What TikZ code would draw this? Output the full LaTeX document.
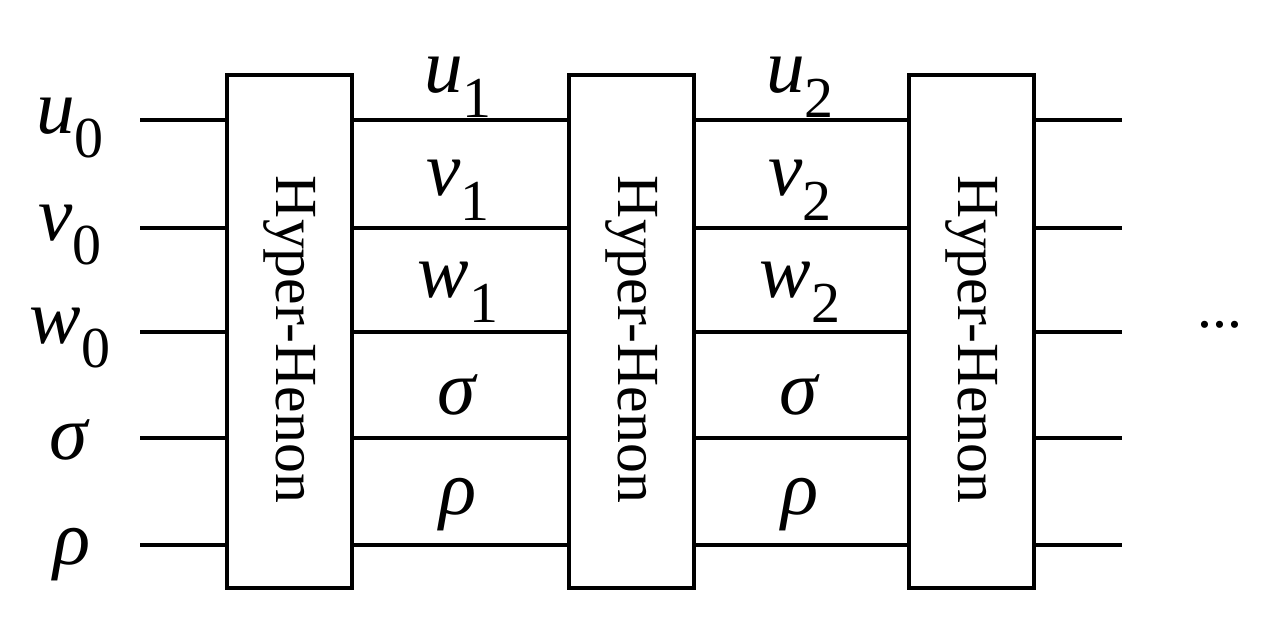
\documentclass[tikz,border=0pt]{standalone}
\usepackage{fontspec}
\setmainfont{Liberation Serif}
\newcommand\lblsub[2]{\textit{#1}\raisebox{-0.32em}{\fontsize{33}{33}\selectfont #2}}
\begin{document}
\begin{tikzpicture}[x=0.02cm,y=-0.02cm,
  box/.style={draw,line width=2pt,minimum width=2.5cm,minimum height=10.26cm,inner sep=0},
  wire/.style={line width=2pt},
  lab/.style={font=\fontsize{44}{44}\selectfont,inner sep=0},
  btxt/.style={font=\fontsize{34}{34}\selectfont,rotate=-90}]
\useasboundingbox (0,0) rectangle (1275,624);
\node[box] (b1) at (289.5,331.5) {};
\node[box] (b2) at (631.5,331.5) {};
\node[box] (b3) at (971.5,331.5) {};
\node[btxt] (t1) at ([yshift=-0.16cm]b1.center) {Hyper-Henon};
\node[btxt] (t2) at ([yshift=-0.16cm]b2.center) {Hyper-Henon};
\node[btxt] (t3) at ([yshift=-0.16cm]b3.center) {Hyper-Henon};
\foreach \y [count=\i] in {120,228,332,438,545}{
  \coordinate (s\i) at (140,\y);
  \coordinate (e\i) at (1122,\y);
  \draw[wire] (s\i) -- (b1.west|-s\i);
  \draw[wire] (b1.east|-s\i) -- (b2.west|-s\i);
  \draw[wire] (b2.east|-s\i) -- (b3.west|-s\i);
  \draw[wire] (b3.east|-s\i) -- (e\i);
}
\node[lab] (u0) at (70,128) {\lblsub{u}{0}};
\node[lab] (v0) at (70,235) {\lblsub{v}{0}};
\node[lab] (w0) at (70,338) {\lblsub{w}{0}};
\node[lab] (sg0) at (70,440) {\textit{σ}};
\node[lab] (r0) at (72,555) {\textit{ρ}};
\foreach \x/\n in {458/1,800/2}{
  \node[lab] (u\n) at (\x,87) {\lblsub{u}{\n}};
  \node[lab] (v\n) at (\x,190) {\lblsub{v}{\n}};
  \node[lab] (w\n) at (\x,292) {\lblsub{w}{\n}};
  \node[lab] (sg\n) at (\x,395) {\textit{σ}};
  \node[lab] (r\n) at (\x,505) {\textit{ρ}};
}
\node[lab] (dots) at (1220,325) {\fontsize{34}{34}\selectfont ...};
\end{tikzpicture}
\end{document}
